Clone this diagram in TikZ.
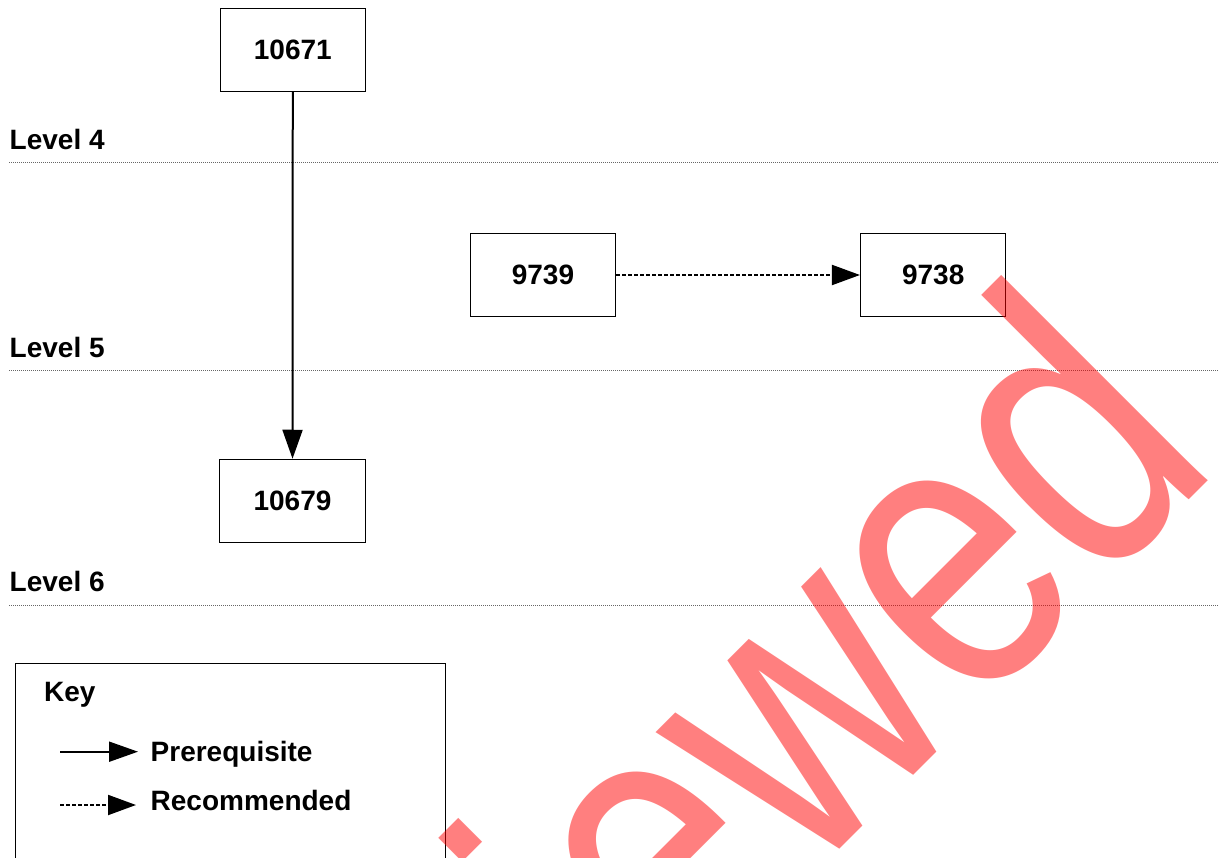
\documentclass[tikz,border=0pt]{standalone}
\usepackage{fontspec}
\setmainfont{Liberation Sans}
\newfontfamily\wmfont{Liberation Sans}
\usetikzlibrary{arrows.meta}
\begin{document}
\begin{tikzpicture}[x=1pt,y=-1pt,
  box/.style={draw=black, line width=1pt, minimum width=145.5pt, minimum height=83.5pt, inner sep=0pt, font=\fontsize{28}{32}\selectfont\bfseries},
  lvl/.style={anchor=base west, inner sep=0pt, font=\fontsize{28}{32}\selectfont\bfseries},
  lvlline/.style={draw=black!60, line width=1pt, dash pattern=on 1pt off 1pt},
  prereq/.style={line width=2pt, -{Triangle[length=29pt,width=20pt]}},
  recom/.style={line width=2pt, dash pattern=on 4pt off 2pt, -{Triangle[length=28pt,width=20pt]}},
  keybox/.style={draw=black, line width=1pt, anchor=north west, minimum width=429.7pt, minimum height=260pt, inner sep=0pt},
  wmark/.style={anchor=base west, inner sep=0pt, rotate=45, text=red, text opacity=0.5, font=\wmfont\fontsize{402}{402}\selectfont}
]
\useasboundingbox (0,0) rectangle (1219,858);
\clip (0,0) rectangle (1219,858);

% level labels and separators
\node[lvl] (l4) at (9.5,149.3) {Level 4};
\coordinate (l4a) at (9,163); \coordinate (l4b) at (1219,163);
\draw[lvlline] (l4a) -- (l4b);
\node[lvl] (l5) at (9.5,357.6) {Level 5};
\coordinate (l5a) at (9,371); \coordinate (l5b) at (1219,371);
\draw[lvlline] (l5a) -- (l5b);
\node[lvl] (l6) at (9.5,591.7) {Level 6};
\coordinate (l6a) at (9,605); \coordinate (l6b) at (1219,605);
\draw[lvlline] (l6a) -- (l6b);

% units
\node[box] (n10671) at (292.8,50) {10671};
\node[box] (n9739) at (543,275) {9739};
\node[box] (n9738) at (933.2,275) {9738};
\node[box] (n10679) at (292.5,501) {10679};

\draw[prereq] (n10671) -- (n10679);
\draw[recom] (n9739) -- (n9738);

% key
\node[keybox] (key) at (15,663) {};
\node[lvl] (keyt) at (44,701.7) {Key};
\coordinate (ka1) at (60,751.7); \coordinate (ka2) at (138,751.7);
\draw[prereq] (ka1) -- (ka2);
\node[lvl] (kat) at (150.5,761.7) {Prerequisite};
\coordinate (kb1) at (60,805); \coordinate (kb2) at (136,805);
\draw[recom] (kb1) -- (kb2);
\node[lvl] (kbt) at (150.5,810) {Recommended};

% watermark
\node[wmark] (wm) at (224.7,1464.3) {\scalebox{0.8}[1]{Reviewed}};
\end{tikzpicture}
\end{document}
